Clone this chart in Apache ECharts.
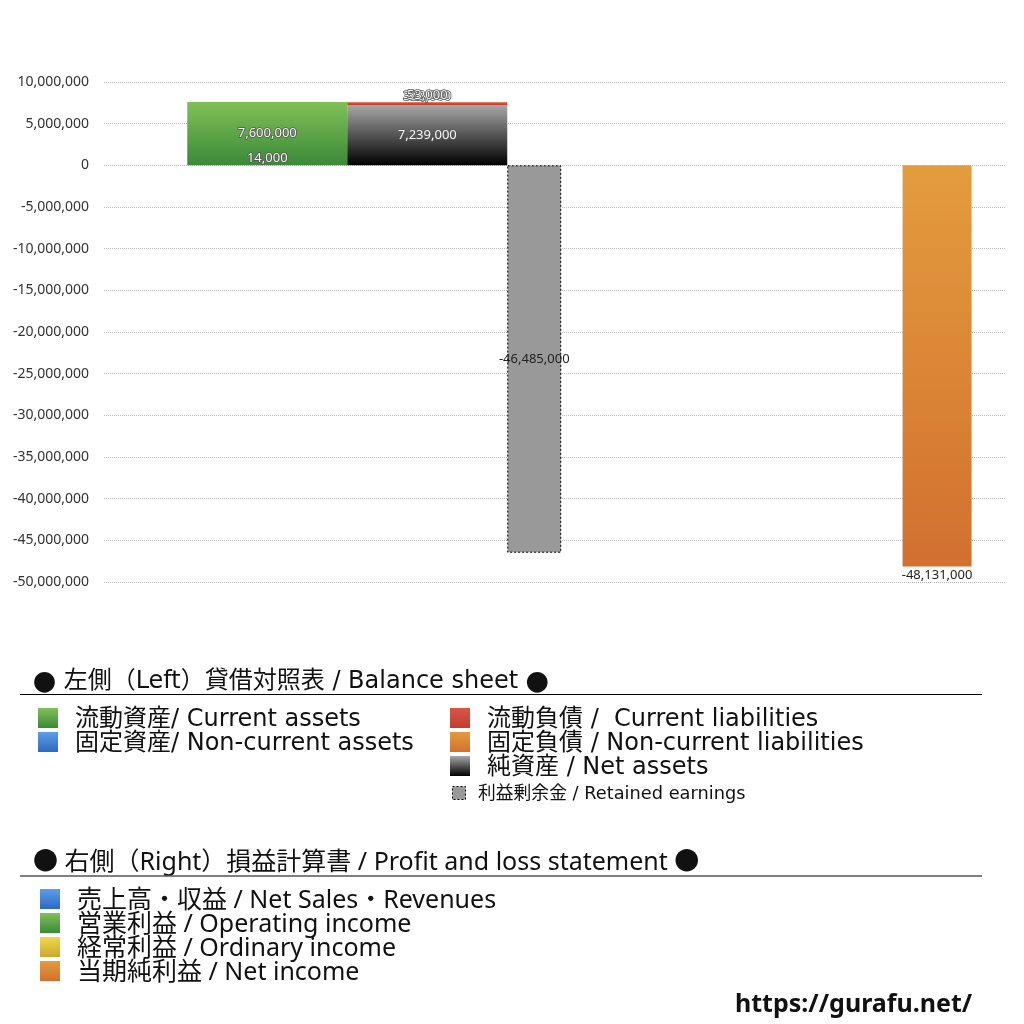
<!DOCTYPE html>
<html>
<head>
<meta charset="utf-8">
<script src="https://cdn.jsdelivr.net/npm/echarts@6/dist/echarts.min.js"></script>
<style>html,body{margin:0;padding:0;background:#fff}#c{width:1024px;height:1024px}</style>
</head>
<body>
<div id="c"></div>
<script>
// ---- data ----
const categories = ['貸借対照表', '損益計算書'];
const currentAssets = [7600000, null];
const nonCurrentAssets = [14000, null];
const currentLiabilities = [322000, null];
const nonCurrentLiabilities = [53000, null];
const netAssets = [7239000, null];
const retainedEarnings = [-46485000, null];
const netSales = [null, null];
const operatingIncome = [null, null];
const ordinaryIncome = [null, null];
const netIncome = [null, -48131000];
const yMin = -50000000, yMax = 10000000, yStep = 5000000;

const bsTitle = '{dot|●} 左側（Left）貸借対照表 / Balance sheet {dot|●}';
const bsLeftLabels = ['流動資産/ Current assets', '固定資産/ Non-current assets'];
const bsRightLabels = ['流動負債 /  Current liabilities', '固定負債 / Non-current liabilities', '純資産 / Net assets'];
const reLabel = '利益剰余金 / Retained earnings';
const plTitle = '● 右側（Right）損益計算書 / Profit and loss statement ●';
const plLabels = ['売上高・収益 / Net Sales・Revenues', '営業利益 / Operating income', '経常利益 / Ordinary income', '当期純利益 / Net income'];
const siteUrl = 'https://gurafu.net/';

// ---- styles ----
const G = echarts.graphic.LinearGradient;
const grad = (a, b) => new G(0, 0, 0, 1, [{offset: 0, color: a}, {offset: 1, color: b}]);
const cGreen = () => grad('#82c057', '#3a8a39');
const cBlue = () => grad('#5d9ee9', '#2e68c0');
const cRed = () => grad('#d85646', '#c33d2f');
const cOrange = () => grad('#e49c3d', '#d2702f');
const cBlack = () => grad('#a8a8a8', '#000000');
const cYellow = () => grad('#f0d84a', '#c9a830');
const fmt = v => (v == null ? '' : Number(v).toLocaleString('en-US'));
const FONT = '"Noto Sans", "Noto Sans CJK JP", sans-serif';
const WIDE = '"DejaVu Sans", "Noto Sans CJK JP", sans-serif';
const CJK = '"Noto Sans CJK JP", sans-serif';
const lightLabel = (pos, dist) => ({
  show: true, position: pos, distance: dist, fontSize: 13, fontFamily: FONT,
  color: '#f4f4f4', textBorderColor: '#555', textBorderWidth: 1.6,
  formatter: p => fmt(p.value)
});
const darkLabel = (pos, dist) => ({
  show: true, position: pos, distance: dist, fontSize: 13, fontFamily: FONT,
  color: '#222', formatter: p => fmt(p.value)
});

const chart = echarts.init(document.getElementById('c'), null, {renderer: 'canvas'});

const graphics = [];
function txt(x, y, text, size, family, weight, rich) {
  const style = {text: text, font: (weight ? weight + ' ' : '') + size + 'px ' + family,
    fill: '#111', verticalAlign: 'middle', align: 'left'};
  if (rich) style.rich = rich;
  graphics.push({type: 'text', x: x, y: y, style: style});
}
function sq(x, y, w, h, fill, extra) {
  graphics.push({type: 'rect', shape: {x: x, y: y, width: w, height: h}, style: Object.assign({fill: fill}, extra || {})});
}
// Balance sheet legend
txt(33, 682, bsTitle, 24, WIDE, null, {dot: {font: '23px ' + CJK, fill: '#111'}});
graphics.push({type: 'line', shape: {x1: 20, y1: 694.5, x2: 982, y2: 694.5}, style: {stroke: '#000', lineWidth: 1}});
const leftFills = [cGreen(), cBlue()];
bsLeftLabels.forEach((t, i) => { sq(38, 708 + i * 24, 20, 20, leftFills[i]); txt(75, 720 + i * 24, t, 24, WIDE); });
const rightFills = [cRed(), cOrange(), cBlack()];
bsRightLabels.forEach((t, i) => { sq(450, 708 + i * 24, 20, 20, rightFills[i]); txt(487, 720 + i * 24, t, 24, WIDE); });
sq(452.5, 786.5, 13, 13, '#999', {stroke: '#000', lineWidth: 1, lineDash: [2, 2]});
txt(478, 794, reLabel, 17.8, WIDE);
// Profit and loss legend
txt(33, 863, plTitle, 25, FONT);
graphics.push({type: 'line', shape: {x1: 20, y1: 876, x2: 982, y2: 876}, style: {stroke: '#555', lineWidth: 1.5}});
const plFills = [cBlue(), cGreen(), cYellow(), cOrange()];
plLabels.forEach((t, i) => { sq(40, 889 + i * 24, 20, 20, plFills[i]); txt(77, 901 + i * 24, t, 25, FONT); });
txt(735, 1005, siteUrl, 25, FONT, 'bold');

const bsAxis = 0, plAxis = 1;
const option = {
  animation: false,
  backgroundColor: '#fff',
  grid: {left: 104, right: 19, top: 82, bottom: 442, containLabel: false},
  xAxis: [
    {type: 'category', data: categories, show: false},
    {type: 'category', data: categories, show: false}
  ],
  yAxis: {
    type: 'value', min: yMin, max: yMax, interval: yStep,
    axisLine: {show: false}, axisTick: {show: false},
    axisLabel: {color: '#333', fontSize: 14, fontFamily: FONT, margin: 15, formatter: v => fmt(v)},
    splitLine: {lineStyle: {type: 'dotted', color: '#b8b8b8', width: 1}}
  },
  series: [
    {name: 'spacer', type: 'bar', xAxisIndex: bsAxis, data: [null, null], barWidth: 90, barGap: '0%', silent: true},
    {name: '固定資産', type: 'bar', xAxisIndex: bsAxis, stack: 'assets', data: nonCurrentAssets, barWidth: 160,
      itemStyle: {color: cBlue()}, label: lightLabel('insideBottom', 1)},
    {name: '流動資産', type: 'bar', xAxisIndex: bsAxis, stack: 'assets', data: currentAssets, barWidth: 160,
      itemStyle: {color: cGreen()}, label: lightLabel('inside', 0)},
    {name: '純資産', type: 'bar', xAxisIndex: bsAxis, stack: 'liab', data: netAssets, barWidth: 160,
      itemStyle: {color: cBlack()}, label: lightLabel('inside', 0)},
    {name: '流動負債', type: 'bar', xAxisIndex: bsAxis, stack: 'liab', data: currentLiabilities, barWidth: 160,
      itemStyle: {color: cRed()}, label: lightLabel('top', 0)},
    {name: '固定負債', type: 'bar', xAxisIndex: bsAxis, stack: 'liab', data: nonCurrentLiabilities, barWidth: 160,
      itemStyle: {color: cOrange()}, label: lightLabel('top', 0)},
    {name: '利益剰余金', type: 'bar', xAxisIndex: bsAxis, data: retainedEarnings, barWidth: 54, barGap: '0%',
      itemStyle: {color: '#999999', borderColor: '#000', borderWidth: 1, borderType: [2, 2]},
      label: darkLabel('inside', 0)},
    {name: '売上高', type: 'bar', xAxisIndex: plAxis, data: netSales, barWidth: 69, barGap: '52%',
      itemStyle: {color: cBlue()}, label: darkLabel('bottom', 2)},
    {name: '営業利益', type: 'bar', xAxisIndex: plAxis, data: operatingIncome, barWidth: 69, barGap: '52%',
      itemStyle: {color: cGreen()}, label: darkLabel('bottom', 2)},
    {name: '経常利益', type: 'bar', xAxisIndex: plAxis, data: ordinaryIncome, barWidth: 69, barGap: '52%',
      itemStyle: {color: cYellow()}, label: darkLabel('bottom', 2)},
    {name: '当期純利益', type: 'bar', xAxisIndex: plAxis, data: netIncome, barWidth: 69, barGap: '52%',
      itemStyle: {color: cOrange()}, label: darkLabel('bottom', 2)}
  ],
  graphic: {elements: graphics}
};
chart.setOption(option);
</script>
</body>
</html>
